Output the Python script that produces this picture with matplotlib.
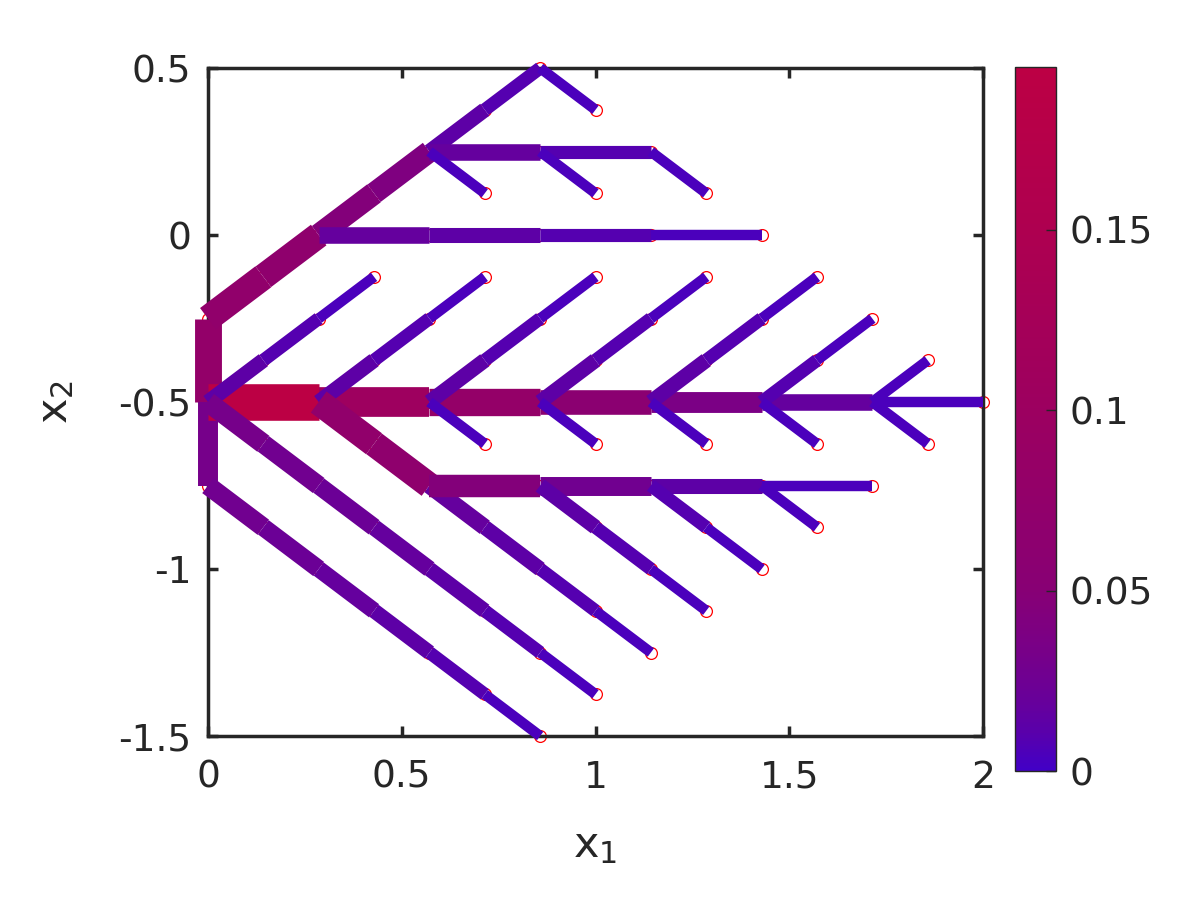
import numpy as np
import matplotlib.pyplot as plt
from matplotlib.collections import LineCollection
from matplotlib.colors import LinearSegmentedColormap, Normalize

# nodos en la malla (i, j): x = i/7, y = j/8
rama_superior = [[(0, -4), (0, -2)],
                 [(0, -2), (1, -1), (2, 0), (3, 1), (4, 2), (5, 3), (6, 4), (7, 3)],
                 [(4, 2), (6, 2), (8, 2), (9, 1)],
                 [(4, 2), (5, 1)],
                 [(6, 2), (7, 1)],
                 [(2, 0), (4, 0), (6, 0), (8, 0), (10, 0)]]
flujo_superior = [[0.077],
                  [0.072, 0.068, 0.045, 0.041, 0.0135, 0.009, 0.0045],
                  [0.018, 0.009, 0.0045],
                  [0.0045],
                  [0.0045],
                  [0.018, 0.0135, 0.009, 0.0045]]

rama_vertical_inf = [[(0, -4), (0, -6)]]
flujo_vertical_inf = [[0.0315]]

eje_central = [[(0, -4), (2, -4), (4, -4), (6, -4), (8, -4), (10, -4), (12, -4), (14, -4)]]
flujo_central = [[0.194, 0.104, 0.081, 0.059, 0.036, 0.018, 0.0045]]

diag_arriba = [[(0, -4), (1, -3), (2, -2), (3, -1)],
               [(2, -4), (3, -3), (4, -2), (5, -1)],
               [(4, -4), (5, -3), (6, -2), (7, -1)],
               [(6, -4), (7, -3), (8, -2), (9, -1)],
               [(8, -4), (9, -3), (10, -2), (11, -1)],
               [(10, -4), (11, -3), (12, -2)],
               [(12, -4), (13, -3)]]
flujo_arriba = [[0.0135, 0.009, 0.0045],
                [0.0135, 0.009, 0.0045],
                [0.0135, 0.009, 0.0045],
                [0.0135, 0.009, 0.0045],
                [0.0135, 0.009, 0.0045],
                [0.009, 0.0045],
                [0.0045]]

diag_abajo = [[(4, -4), (5, -5)],
              [(6, -4), (7, -5)],
              [(8, -4), (9, -5)],
              [(10, -4), (11, -5)],
              [(12, -4), (13, -5)]]
flujo_abajo = [[0.0045], [0.0045], [0.0045], [0.0045], [0.0045]]

rama_inferior = [[(2, -4), (3, -5), (4, -6), (5, -7), (6, -8), (7, -9), (8, -10)],
                 [(4, -6), (6, -6), (8, -6), (10, -6), (12, -6)],
                 [(6, -6), (7, -7), (8, -8), (9, -9)],
                 [(8, -6), (9, -7), (10, -8)],
                 [(10, -6), (11, -7)],
                 [(0, -4), (1, -5), (2, -6), (3, -7), (4, -8), (5, -9), (6, -10), (7, -11)],
                 [(0, -6), (1, -7), (2, -8), (3, -9), (4, -10), (5, -11), (6, -12)]]
flujo_inferior = [[0.072, 0.068, 0.018, 0.0135, 0.009, 0.0045],
                  [0.045, 0.027, 0.0135, 0.0045],
                  [0.0135, 0.009, 0.0045],
                  [0.009, 0.0045],
                  [0.0045],
                  [0.0315, 0.027, 0.0225, 0.018, 0.0135, 0.009, 0.0045],
                  [0.027, 0.0225, 0.018, 0.0135, 0.009, 0.0045]]

flujo_max = 0.195
ticks_barra = [0, 0.05, 0.1, 0.15]

ramas = rama_superior + rama_vertical_inf + eje_central + diag_arriba + diag_abajo + rama_inferior
flujos = flujo_superior + flujo_vertical_inf + flujo_central + flujo_arriba + flujo_abajo + flujo_inferior

segmentos = []
valores = []
nodos = set()
for camino, f in zip(ramas, flujos):
    for k in range(len(camino) - 1):
        (i0, j0), (i1, j1) = camino[k], camino[k + 1]
        segmentos.append([(i0 / 7, j0 / 8), (i1 / 7, j1 / 8)])
        valores.append(f[k])
        nodos.add((i0, j0))
        nodos.add((i1, j1))
valores = np.array(valores)

colores = [(0.0, '#4200c6'), (0.05, '#5800ac'), (0.1, '#68009a'), (0.17, '#780088'),
           (0.26, '#880074'), (0.51, '#9c0060'), (0.77, '#ae0050'), (1.0, '#bc0044')]
mapa = LinearSegmentedColormap.from_list('flujo', colores)

plt.rcParams['font.family'] = 'DejaVu Sans'
plt.rcParams['mathtext.fontset'] = 'dejavusans'
fig = plt.figure(figsize=(12, 9), dpi=100)
ax = fig.add_axes([0.1733, 0.1822, 0.6459, 0.7422])

nx = np.array([n[0] / 7 for n in nodos])
ny = np.array([n[1] / 8 for n in nodos])
ax.plot(nx, ny, 'o', ms=8.5, mfc='white', mec='red', mew=0.9, ls='none', zorder=2, clip_on=False)

lc = LineCollection(segmentos, cmap=mapa, norm=Normalize(0, flujo_max),
                    linewidths=45.5 * valores ** (1 / 3), capstyle='butt', zorder=3)
lc.set_array(valores)
lc.set_clip_on(False)
ax.add_collection(lc)

ax.set_xlim(0, 2)
ax.set_ylim(-1.5, 0.5)
ax.set_xticks([0, 0.5, 1, 1.5, 2])
ax.set_xticklabels(['0', '0.5', '1', '1.5', '2'])
ax.set_yticks([-1.5, -1, -0.5, 0, 0.5])
ax.set_yticklabels(['-1.5', '-1', '-0.5', '0', '0.5'])
gris = '#262626'
for lado in ax.spines.values():
    lado.set_linewidth(2.5)
    lado.set_color(gris)
ax.tick_params(direction='in', length=7, width=2.5, color=gris, labelcolor=gris,
               labelsize=27, top=True, right=True)
ax.tick_params(axis='x', pad=17)
ax.tick_params(axis='y', pad=12)
ax.set_xlabel(r'x$_\mathregular{1}$', fontsize=31, color=gris)
ax.set_ylabel(r'x$_\mathregular{2}$', fontsize=31, color=gris)
ax.xaxis.set_label_coords(0.5, -0.132)
ax.yaxis.set_label_coords(-0.17, 0.5)

cax = fig.add_axes([0.8458, 0.1433, 0.0342, 0.782])
cb = fig.colorbar(lc, cax=cax, ticks=ticks_barra)
cb.ax.set_yticklabels(['0', '0.05', '0.1', '0.15'])
cb.outline.set_linewidth(1)
cb.outline.set_edgecolor(gris)
cb.ax.tick_params(direction='in', length=7, width=1, color=gris, labelcolor=gris,
                  labelsize=27, pad=10)

plt.savefig('out.png', dpi=100)
